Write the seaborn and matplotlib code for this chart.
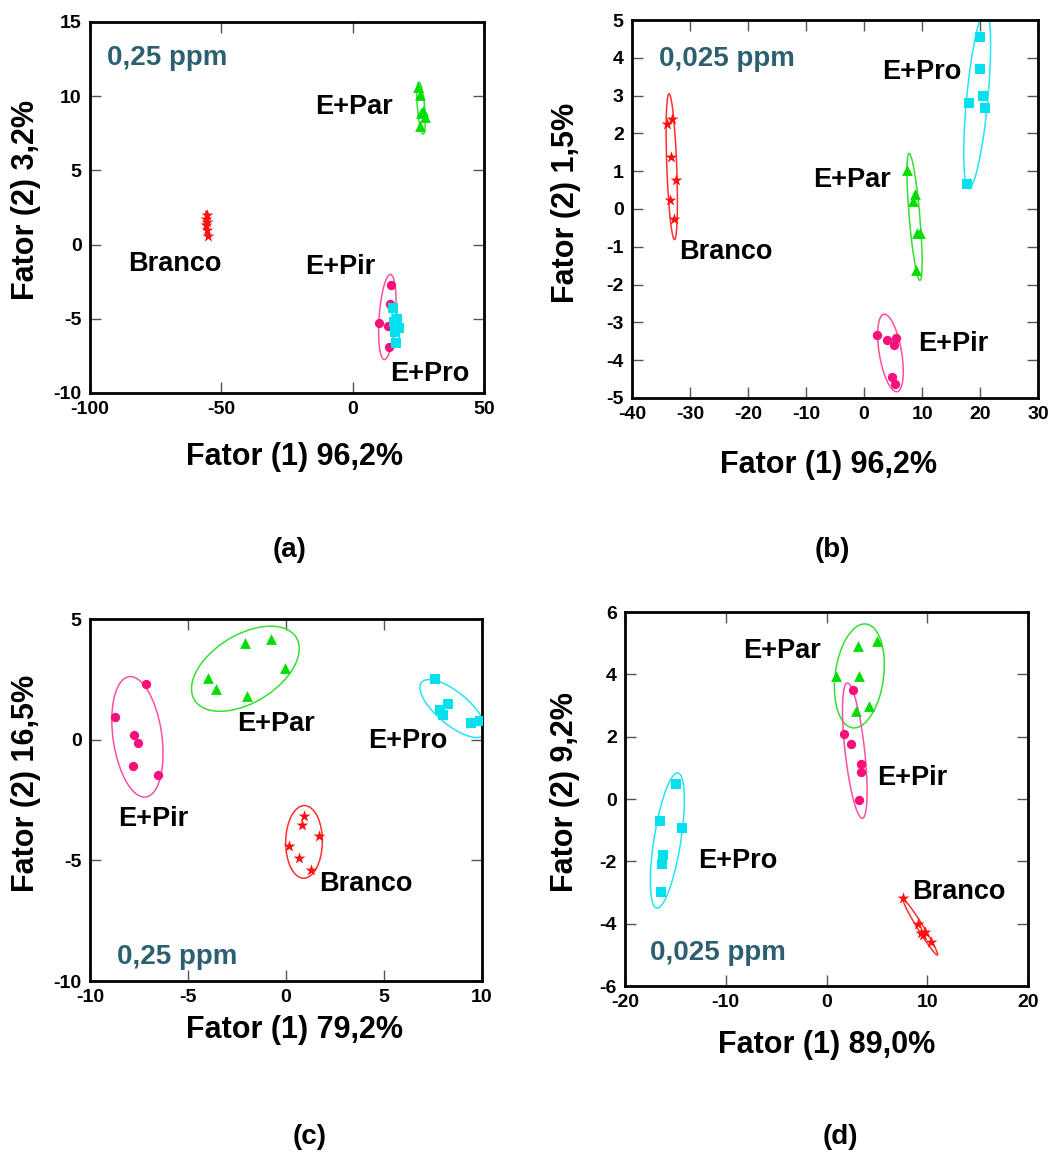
import numpy as np
import pandas as pd
import matplotlib
matplotlib.use("Agg")
import matplotlib.pyplot as plt
from matplotlib.patches import Ellipse
import seaborn as sns

# ---------------- data ----------------
groups = ["Branco", "E+Par", "E+Pir", "E+Pro"]

# panel (a) 0,25 ppm
a_branco_x = [-55.5, -55.8, -55.3, -55.9, -55.4, -55.2]
a_branco_y = [2.0, 1.7, 1.5, 1.3, 1.0, 0.6]
a_par_x = [25.0, 25.6, 26.0, 27.5, 25.5, 26.6]
a_par_y = [10.6, 10.1, 8.9, 8.6, 8.0, 9.0]
a_pir_x = [14.7, 14.1, 10.0, 13.4, 13.8]
a_pir_y = [-2.7, -4.0, -5.3, -5.5, -6.9]
a_pro_x = [15.3, 16.8, 17.5, 16.2, 16.5, 15.8]
a_pro_y = [-4.3, -5.0, -5.6, -5.9, -6.6, -5.2]

# panel (b) 0,025 ppm
b_branco_x = [-33.9, -33.1, -33.3, -32.4, -33.5, -32.7]
b_branco_y = [2.24, 2.37, 1.38, 0.76, 0.23, -0.27]
b_par_x = [7.45, 8.8, 8.4, 9.05, 9.6, 8.9]
b_par_y = [1.02, 0.39, 0.2, -0.63, -0.63, -1.61]
b_pir_x = [2.3, 4.0, 5.5, 5.2, 4.9, 5.4]
b_pir_y = [-3.33, -3.46, -3.41, -3.59, -4.45, -4.62]
b_pro_x = [19.95, 19.95, 20.5, 20.8, 18.1, 17.7]
b_pro_y = [4.54, 3.7, 3.0, 2.68, 2.8, 0.65]

# panel (c) 0,25 ppm
c_branco_x = [0.92, 0.83, 1.68, 0.15, 0.68, 1.26]
c_branco_y = [-3.18, -3.53, -3.98, -4.42, -4.91, -5.39]
c_par_x = [-3.96, -3.57, -2.09, -0.78, -0.03, -2.0]
c_par_y = [2.56, 2.12, 4.01, 4.18, 2.97, 1.8]
c_pir_x = [-7.14, -8.72, -7.73, -7.56, -7.78, -6.54]
c_pir_y = [2.32, 0.93, 0.18, -0.14, -1.1, -1.48]
c_pro_x = [7.6, 7.85, 8.28, 8.02, 9.46, 9.89]
c_pro_y = [2.52, 1.22, 1.49, 1.04, 0.69, 0.79]

# panel (d) 0,025 ppm
d_branco_x = [7.6, 9.09, 9.42, 9.82, 9.6, 10.4]
d_branco_y = [-3.19, -4.0, -4.3, -4.26, -4.37, -4.59]
d_par_x = [0.99, 3.14, 3.24, 5.06, 4.23, 2.91]
d_par_y = [3.95, 4.9, 3.96, 5.06, 3.0, 2.83]
d_pir_x = [2.58, 1.75, 2.41, 3.47, 3.4, 3.24]
d_pir_y = [3.5, 2.08, 1.77, 1.11, 0.88, -0.03]
d_pro_x = [-14.94, -16.53, -14.31, -16.2, -16.36, -16.46]
d_pro_y = [0.47, -0.71, -0.92, -1.78, -2.07, -2.98]

x_titles = ["Fator (1) 96,2%", "Fator (1) 96,2%", "Fator (1) 79,2%", "Fator (1) 89,0%"]
y_titles = ["Fator (2) 3,2%", "Fator (2) 1,5%", "Fator (2) 16,5%", "Fator (2) 9,2%"]
conc_labels = ["0,25 ppm", "0,025 ppm", "0,25 ppm", "0,025 ppm"]
panel_letters = ["(a)", "(b)", "(c)", "(d)"]

x_ticks = [[-100, -50, 0, 50], [-40, -30, -20, -10, 0, 10, 20, 30],
           [-10, -5, 0, 5, 10], [-20, -10, 0, 10, 20]]
y_ticks = [[-10, -5, 0, 5, 10, 15], [-5, -4, -3, -2, -1, 0, 1, 2, 3, 4, 5],
           [-10, -5, 0, 5], [-6, -4, -2, 0, 2, 4, 6]]

# ---------------- style ----------------
sns.set_style("ticks")
plt.rcParams["font.family"] = ["Liberation Sans", "DejaVu Sans"]
plt.rcParams["font.weight"] = "bold"
plt.rcParams["axes.unicode_minus"] = False
plt.rcParams["text.color"] = "black"
plt.rcParams["axes.labelcolor"] = "black"
plt.rcParams["xtick.color"] = "black"
plt.rcParams["ytick.color"] = "black"

palette = {"Branco": "#FF1010", "E+Par": "#00DD00", "E+Pir": "#F5107A", "E+Pro": "#00E1EE"}
ell_colors = {"Branco": "#FF3030", "E+Par": "#33E033", "E+Pir": "#FF4FA0", "E+Pro": "#22E5F5"}
markers = {"Branco": "*", "E+Par": "^", "E+Pir": "o", "E+Pro": "s"}
msize = {"Branco": 80, "E+Par": 60, "E+Pir": 45, "E+Pro": 50}
ppm_color = "#2C6070"


def make_df(bx, by, px, py, ix, iy, rx, ry):
    rows = []
    for g, xs, ys in zip(groups, [bx, px, ix, rx], [by, py, iy, ry]):
        for x, y in zip(xs, ys):
            rows.append({"x": x, "y": y, "grupo": g})
    return pd.DataFrame(rows)


dfs = [
    make_df(a_branco_x, a_branco_y, a_par_x, a_par_y, a_pir_x, a_pir_y, a_pro_x, a_pro_y),
    make_df(b_branco_x, b_branco_y, b_par_x, b_par_y, b_pir_x, b_pir_y, b_pro_x, b_pro_y),
    make_df(c_branco_x, c_branco_y, c_par_x, c_par_y, c_pir_x, c_pir_y, c_pro_x, c_pro_y),
    make_df(d_branco_x, d_branco_y, d_par_x, d_par_y, d_pir_x, d_pir_y, d_pro_x, d_pro_y),
]

# annotation positions (data coords) for group names and concentration
name_pos = [
    {"Branco": (-85.5, -1.3), "E+Par": (-14.4, 9.27), "E+Pir": (-18.2, -1.5), "E+Pro": (14.2, -8.7)},
    {"Branco": (-31.9, -1.14), "E+Par": (-8.8, 0.77), "E+Pir": (9.3, -3.57), "E+Pro": (3.1, 3.62)},
    {"Branco": (1.68, -5.98), "E+Par": (-2.5, 0.65), "E+Pir": (-8.57, -3.29), "E+Pro": (4.18, -0.06)},
    {"Branco": (8.49, -2.98), "E+Par": (-8.29, 4.75), "E+Pir": (5.0, 0.67), "E+Pro": (-12.75, -1.99)},
]
conc_pos = [(-93.5, 12.6), (-35.3, 3.97), (-8.62, -9.0), (-17.5, -4.94)]

axes_rects = [
    [0.0848, 0.6624, 0.3714, 0.3187],
    [0.5957, 0.6581, 0.3827, 0.3247],
    [0.0848, 0.1572, 0.3695, 0.3110],
    [0.5891, 0.1529, 0.3798, 0.3213],
]
xlabel_pos = [(295, 457), (828, 465), (295, 1030), (827, 1045)]
ylabel_pos = [(26, 200), (566, 203), (26, 783), (565, 792)]
letter_pos = [(290, 550), (832, 550), (310, 1137), (840, 1137)]

W, H = 1061, 1164
fig = plt.figure(figsize=(W / 100, H / 100), dpi=100)


def conf_ellipse(ax, xs, ys, color, n_std=1.8):
    xs = np.asarray(xs, float)
    ys = np.asarray(ys, float)
    cov = np.cov(xs, ys)
    vals, vecs = np.linalg.eigh(cov)
    order = vals.argsort()[::-1]
    vals, vecs = vals[order], vecs[:, order]
    angle = np.degrees(np.arctan2(vecs[1, 0], vecs[0, 0]))
    w, h = 2 * n_std * np.sqrt(vals)
    e = Ellipse((xs.mean(), ys.mean()), w, h, angle=angle, fill=False,
                edgecolor=color, lw=1.1, zorder=2)
    ax.add_patch(e)


for i in range(4):
    ax = fig.add_axes(axes_rects[i])
    df = dfs[i]
    xlim = (x_ticks[i][0], x_ticks[i][-1])
    ylim = (y_ticks[i][0], y_ticks[i][-1])

    for g in groups:
        sub = df[df["grupo"] == g]
        conf_ellipse(ax, sub["x"], sub["y"], ell_colors[g])

    for g in groups:
        sub = df[df["grupo"] == g]
        sns.scatterplot(data=sub, x="x", y="y", ax=ax, color=palette[g],
                        marker=markers[g], s=msize[g], linewidth=0, legend=False,
                        zorder=3)

    ax.set_xlim(*xlim)
    ax.set_ylim(*ylim)
    ax.set_xticks(x_ticks[i])
    ax.set_yticks(y_ticks[i])
    ax.set_xlabel("")
    ax.set_ylabel("")
    ax.tick_params(direction="in", length=8, width=1, top=True, right=True,
                   labelsize=14, pad=6, color="#555555", labelcolor="black")
    for sp in ax.spines.values():
        sp.set_linewidth(2)
        sp.set_color("black")
        sp.set_visible(True)

    for g in groups:
        tx, ty = name_pos[i][g]
        ax.text(tx, ty, g, fontsize=19.5, fontweight="bold", ha="left", va="center",
                color="black", zorder=4)
    cx, cy = conc_pos[i]
    ax.text(cx, cy, conc_labels[i], fontsize=20, fontweight="bold", ha="left",
            va="center", color=ppm_color, zorder=4)

    fig.text(xlabel_pos[i][0] / W, 1 - xlabel_pos[i][1] / H, x_titles[i],
             fontsize=22, fontweight="bold", ha="center", va="center", color="black")
    fig.text(ylabel_pos[i][0] / W, 1 - ylabel_pos[i][1] / H, y_titles[i],
             fontsize=22, fontweight="bold", ha="center", va="center", rotation=90,
             color="black")
    fig.text(letter_pos[i][0] / W, 1 - letter_pos[i][1] / H, panel_letters[i],
             fontsize=20, fontweight="bold", ha="center", va="center", color="black")

fig.savefig("out.png", dpi=100, facecolor="white")
